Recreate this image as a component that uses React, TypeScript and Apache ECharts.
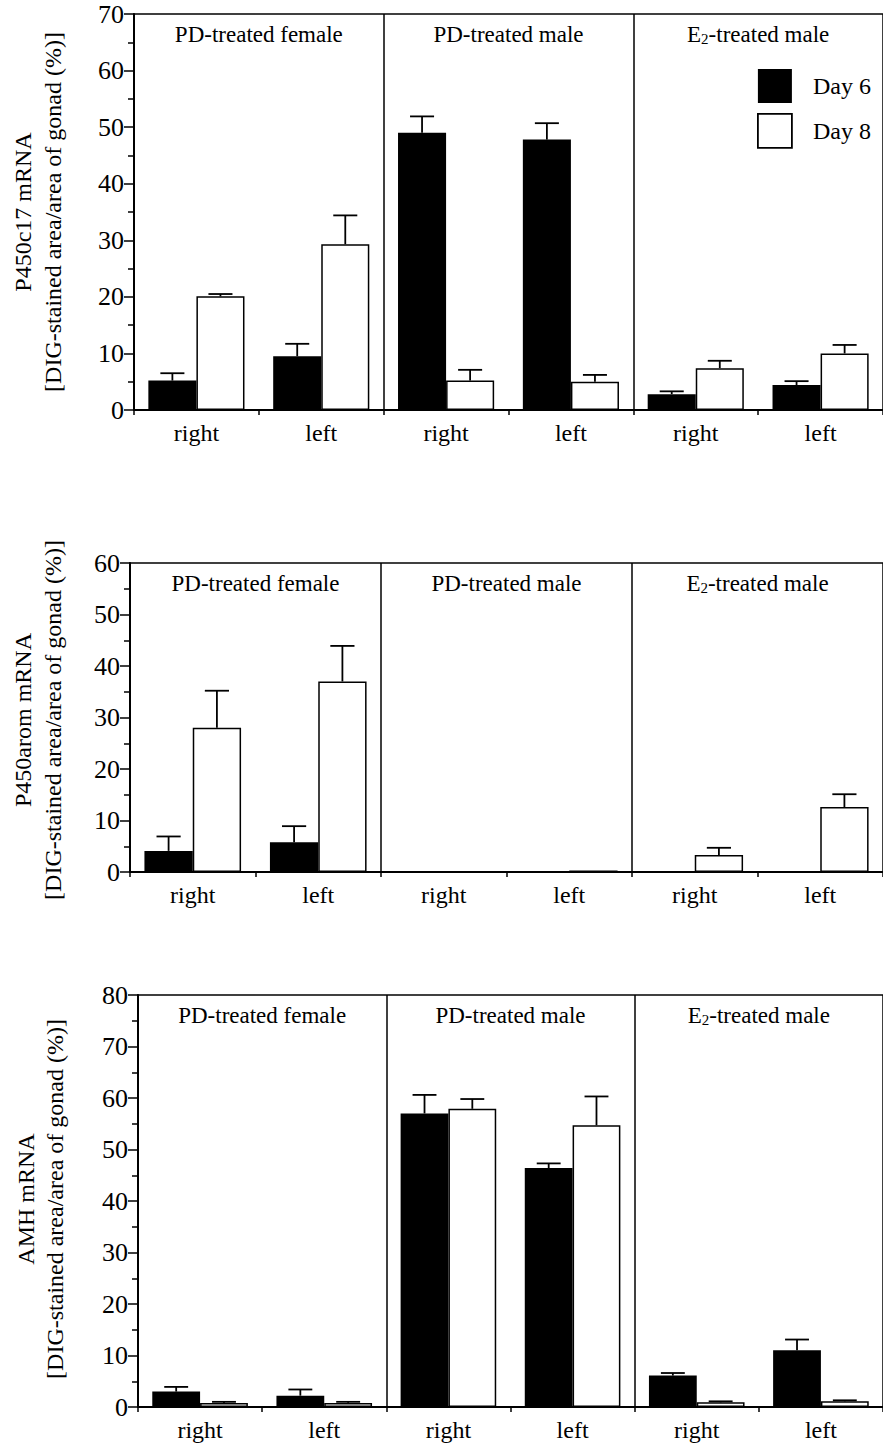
import React, { useEffect, useRef } from "react";
import * as echarts from "echarts";

const CATEGORIES = ["right", "left", "right", "left", "right", "left"];
const PANELS = ["PD-treated female", "PD-treated male", "E2-treated male"];
const SERIES_NAMES = ["Day 6", "Day 8"];

// P450c17 mRNA
const C17_DAY6 = [5.2, 9.5, 49.0, 47.8, 2.8, 4.4];
const C17_DAY6_ERR = [1.3, 2.2, 2.9, 2.9, 0.5, 0.7];
const C17_DAY8 = [20.1, 29.3, 5.2, 5.0, 7.4, 10.0];
const C17_DAY8_ERR = [0.4, 5.1, 1.9, 1.2, 1.3, 1.5];

// P450arom mRNA
const AROM_DAY6 = [4.1, 5.8, 0, 0, 0, 0];
const AROM_DAY6_ERR = [2.8, 3.1, 0, 0, 0, 0];
const AROM_DAY8 = [28.0, 37.0, 0, 0.3, 3.3, 12.6];
const AROM_DAY8_ERR = [7.2, 6.9, 0, 0, 1.4, 2.5];

// AMH mRNA
const AMH_DAY6 = [3.0, 2.2, 57.0, 46.4, 6.1, 11.0];
const AMH_DAY6_ERR = [0.9, 1.2, 3.6, 0.9, 0.5, 2.1];
const AMH_DAY8 = [0.8, 0.8, 57.9, 54.7, 0.9, 1.1];
const AMH_DAY8_ERR = [0.2, 0.2, 1.9, 5.6, 0.2, 0.2];

const Y_MAX = [70, 60, 80];
const Y_TITLES = ["P450c17 mRNA", "P450arom mRNA", "AMH mRNA"];
const Y_SUBTITLE = "[DIG-stained area/area of gonad (%)]";

const FONT = "'Liberation Serif', 'Times New Roman', serif";
const BAR_RATIO = 0.385;

const PANEL_DATA = [
  { d6: C17_DAY6, e6: C17_DAY6_ERR, d8: C17_DAY8, e8: C17_DAY8_ERR },
  { d6: AROM_DAY6, e6: AROM_DAY6_ERR, d8: AROM_DAY8, e8: AROM_DAY8_ERR },
  { d6: AMH_DAY6, e6: AMH_DAY6_ERR, d8: AMH_DAY8, e8: AMH_DAY8_ERR },
];

// layout of the three panels
const GRIDS = [
  { left: 134, top: 14, width: 754, height: 396 },
  { left: 130, top: 563, width: 761, height: 309 },
  { left: 138, top: 995, width: 752, height: 412 },
];
const TITLE_POS = [
  { x1: 23, x2: 53, y: 212 },
  { x1: 23, x2: 53, y: 720 },
  { x1: 26, x2: 55, y: 1199 },
];

function errorSeries(values: number[], errs: number[], g: number, side: number) {
  return {
    type: "custom",
    xAxisIndex: g * 2,
    yAxisIndex: g,
    z: 5,
    silent: true,
    data: values.map((v, i) => [i, v, v + errs[i], errs[i]]),
    encode: { x: 0, y: [1, 2] },
    renderItem: (params: any, api: any) => {
      if (api.value(3) <= 0) return null;
      const i = api.value(0);
      const lo = api.coord([i, api.value(1)]);
      const hi = api.coord([i, api.value(2)]);
      const band = api.size([1, 0])[0];
      const bw = band * BAR_RATIO;
      const x = lo[0] + (side * bw) / 2;
      const cap = bw / 2;
      const st = { stroke: "#000", lineWidth: 1.8 };
      return {
        type: "group",
        children: [
          { type: "line", shape: { x1: x, y1: lo[1], x2: x, y2: hi[1] }, style: st },
          { type: "line", shape: { x1: x - cap / 2, y1: hi[1], x2: x + cap / 2, y2: hi[1] }, style: st },
        ],
      };
    },
  };
}

export default function App() {
  const ref = useRef<HTMLDivElement>(null);
  useEffect(() => {
    if (!ref.current) return;
    const chart = echarts.init(ref.current, null, { renderer: "svg" });

    const grid: any[] = [];
    const xAxis: any[] = [];
    const yAxis: any[] = [];
    const series: any[] = [];
    const graphic: any[] = [];

    GRIDS.forEach((gr, g) => {
      grid.push({ ...gr, containLabel: false });
      xAxis.push({
        type: "category",
        gridIndex: g,
        data: CATEGORIES,
        position: "bottom",
        axisLine: { show: true, lineStyle: { color: "#000", width: 2 } },
        axisTick: { show: true, interval: 0, length: 5, lineStyle: { color: "#000", width: 1.5 } },
        axisLabel: { interval: 0, color: "#000", fontSize: 24, fontFamily: FONT, margin: 11 },
        splitLine: { show: false },
      });
      xAxis.push({
        type: "category",
        gridIndex: g,
        data: PANELS,
        position: "top",
        axisLine: { show: true, lineStyle: { color: "#000", width: 1.5 } },
        axisTick: { show: false, interval: 0 },
        axisLabel: {
          interval: 0,
          inside: true,
          margin: 9,
          color: "#000",
          fontSize: 23,
          fontFamily: FONT,
          formatter: (v: string) =>
            v.startsWith("E2") ? "{n|E}{s|2}{n|" + v.slice(2) + "}" : "{n|" + v + "}",
          rich: {
            n: { fontSize: 23, fontFamily: FONT, color: "#000" },
            s: { fontSize: 15, fontFamily: FONT, color: "#000", verticalAlign: "bottom" },
          },
        },
        splitLine: { show: true, interval: 0, lineStyle: { color: "#000", width: 1.5 } },
      });
      yAxis.push({
        type: "value",
        gridIndex: g,
        min: 0,
        max: Y_MAX[g],
        interval: 10,
        axisLine: { show: true, lineStyle: { color: "#000", width: 2 } },
        axisTick: { show: true, length: 10, lineStyle: { color: "#000", width: 1.5 } },
        minorTick: { show: true, splitNumber: 2, length: 6, lineStyle: { color: "#000", width: 1.5 } },
        axisLabel: { color: "#000", fontSize: 26, fontFamily: FONT, margin: 10 },
        splitLine: { show: false },
      });

      const pd = PANEL_DATA[g];
      series.push({
        type: "bar",
        name: SERIES_NAMES[0],
        xAxisIndex: g * 2,
        yAxisIndex: g,
        data: pd.d6,
        barWidth: (BAR_RATIO * 100).toFixed(1) + "%",
        barGap: "0%",
        itemStyle: { color: "#000" },
        silent: true,
      });
      series.push({
        type: "bar",
        name: SERIES_NAMES[1],
        xAxisIndex: g * 2,
        yAxisIndex: g,
        data: pd.d8,
        barWidth: (BAR_RATIO * 100).toFixed(1) + "%",
        barGap: "0%",
        itemStyle: { color: "#fff", borderColor: "#000", borderWidth: 1.5 },
        silent: true,
      });
      series.push(errorSeries(pd.d6, pd.e6, g, -1));
      series.push(errorSeries(pd.d8, pd.e8, g, 1));

      const tp = TITLE_POS[g];
      graphic.push({
        type: "text",
        x: tp.x1,
        y: tp.y,
        rotation: Math.PI / 2,
        style: {
          text: Y_TITLES[g],
          fontSize: 24,
          fontFamily: FONT,
          fill: "#000",
          align: "center",
          verticalAlign: "middle",
        },
      });
      graphic.push({
        type: "text",
        x: tp.x2,
        y: tp.y,
        rotation: Math.PI / 2,
        style: {
          text: Y_SUBTITLE,
          fontSize: 24,
          fontFamily: FONT,
          fill: "#000",
          align: "center",
          verticalAlign: "middle",
        },
      });
    });

    chart.setOption({
      animation: false,
      backgroundColor: "#fff",
      grid,
      xAxis,
      yAxis,
      series,
      graphic,
      legend: {
        show: true,
        orient: "vertical",
        left: 757,
        top: 69,
        padding: 0,
        itemWidth: 34,
        itemHeight: 34,
        itemGap: 10,
        icon: "rect",
        selectedMode: false,
        data: [
          { name: "Day 6", itemStyle: { color: "#000" } },
          { name: "Day 8", itemStyle: { color: "#fff", borderColor: "#000", borderWidth: 1.8 } },
        ],
        textStyle: { color: "#000", fontSize: 24, fontFamily: FONT, padding: [0, 0, 0, 16] },
      },
    });
    return () => chart.dispose();
  }, []);

  return (
    <div
      ref={ref}
      style={{ position: "absolute", left: 0, top: 0, width: 883, height: 1443, overflow: "hidden" }}
    />
  );
}
